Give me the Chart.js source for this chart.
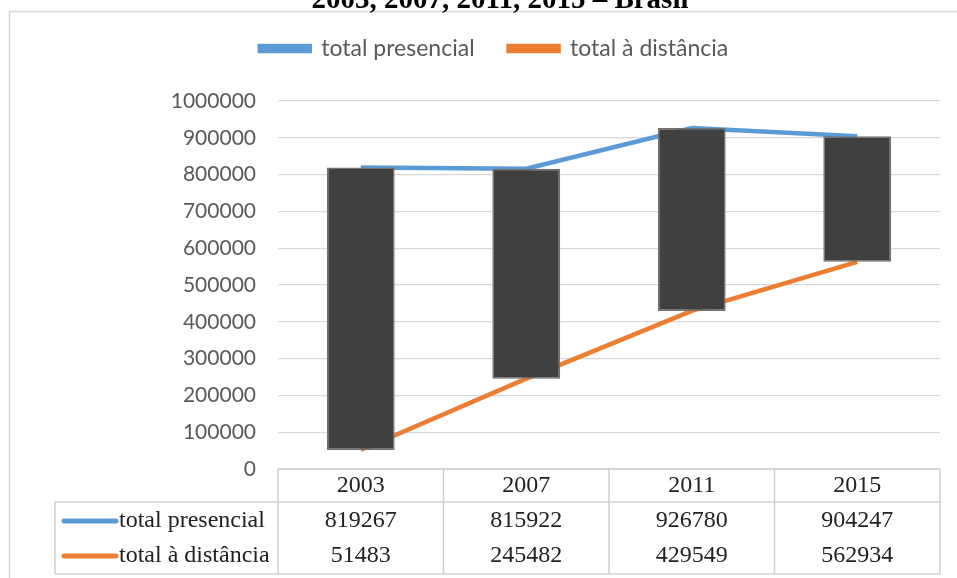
<!DOCTYPE html>
<html>
<head>
<meta charset="utf-8">
<script src="https://cdn.jsdelivr.net/npm/chart.js@4.4.1/dist/chart.umd.min.js"></script>
<style>
  html, body { margin: 0; padding: 0; background: #fff; overflow: hidden; }
  #wrap { position: relative; width: 957px; height: 578px; }
  #title { position: absolute; left: 0; width: 1000px; top: -18px; text-align: center;
           font: bold 29px "Liberation Serif", "Times New Roman", serif; color: #000; }
  canvas { position: absolute; left: 0; top: 0; }
</style>
</head>
<body>
<div id="wrap">
  <canvas id="chart" width="957" height="578"></canvas>
  <div id="title">2003, 2007, 2011, 2015 – Brasil</div>
</div>
<script>
// Data
const years = ['2003', '2007', '2011', '2015'];
const presencial = [819267, 815922, 926780, 904247];
const distancia = [51483, 245482, 429549, 562934];
const seriesNames = ['total presencial', 'total à distância'];
const seriesColors = ['#5B9BD5', '#ED7D31'];

const tickFont = { family: 'Lato', size: 21 };
const legendFont = { family: 'Lato', size: 23 };
const tableFont = '24px "Liberation Serif", "Times New Roman", serif';

// Frame around the whole chart
const chartFrame = {
    id: 'chartFrame',
    beforeDraw(chart) {
        const ctx = chart.ctx;
        ctx.save();
        ctx.strokeStyle = '#d9d9d9';
        ctx.lineWidth = 1.5;
        ctx.strokeRect(9.5, 11.5, 1000, 1000);
        ctx.restore();
    }
};

// Extra room under the legend
const legendMargin = {
    id: 'legendMargin',
    beforeInit(chart) {
        const fit = chart.legend.fit;
        chart.legend.fit = function () {
            fit.bind(chart.legend)();
            this.height += 31;
        };
    }
};

// Data table under the plot, aligned on the category scale
const dataTable = {
    id: 'dataTable',
    afterDraw(chart) {
        const ctx = chart.ctx;
        const x = chart.scales.x;
        const area = chart.chartArea;
        const half = (x.getPixelForValue(1) - x.getPixelForValue(0)) / 2;
        const colLeft = x.getPixelForValue(0) - half;
        const colRight = x.getPixelForValue(years.length - 1) + half;
        const tableLeft = 55;
        const headTop = area.bottom;
        const headBottom = headTop + 33;
        const tableBottom = headBottom + 72;
        const rowMid = [headBottom + 19, headBottom + 54];

        ctx.save();
        ctx.strokeStyle = '#d0d0d0';
        ctx.lineWidth = 1.5;
        ctx.beginPath();
        ctx.moveTo(colLeft, headTop); ctx.lineTo(colRight, headTop);
        ctx.moveTo(tableLeft, headBottom); ctx.lineTo(colRight, headBottom);
        ctx.moveTo(tableLeft, tableBottom); ctx.lineTo(colRight, tableBottom);
        ctx.moveTo(tableLeft, headBottom); ctx.lineTo(tableLeft, tableBottom);
        for (let i = 0; i <= years.length; i++) {
            const cx = colLeft + i * half * 2;
            ctx.moveTo(cx, headTop); ctx.lineTo(cx, tableBottom);
        }
        ctx.stroke();

        ctx.font = tableFont;
        ctx.fillStyle = '#222';
        ctx.textAlign = 'center';
        ctx.textBaseline = 'middle';
        years.forEach((y, i) => {
            const cx = x.getPixelForValue(i);
            ctx.fillText(y, cx, headTop + 17);
            ctx.fillText(String(presencial[i]), cx, rowMid[0]);
            ctx.fillText(String(distancia[i]), cx, rowMid[1]);
        });

        // row labels with series keys
        ctx.textAlign = 'left';
        ctx.lineCap = 'round';
        ctx.lineWidth = 5;
        seriesNames.forEach((name, r) => {
            ctx.strokeStyle = seriesColors[r];
            ctx.beginPath();
            ctx.moveTo(64, rowMid[r]);
            ctx.lineTo(116, rowMid[r]);
            ctx.stroke();
            ctx.fillText(name, 119, rowMid[r]);
        });
        ctx.restore();
    }
};

new Chart(document.getElementById('chart'), {
    type: 'bar',
    data: {
        labels: years,
        datasets: [
            {
                type: 'line',
                label: seriesNames[0],
                data: presencial,
                borderColor: seriesColors[0],
                backgroundColor: seriesColors[0],
                borderWidth: 4.5,
                pointRadius: 0,
                order: 2
            },
            {
                type: 'line',
                label: seriesNames[1],
                data: distancia,
                borderColor: seriesColors[1],
                backgroundColor: seriesColors[1],
                borderWidth: 4.5,
                pointRadius: 0,
                order: 2
            },
            {
                // up-down bars between the two series
                label: 'updown',
                data: presencial.map((p, i) => [distancia[i], p]),
                backgroundColor: '#404040',
                borderColor: '#707070',
                borderWidth: 1.5,
                borderSkipped: false,
                barPercentage: 0.41,
                categoryPercentage: 1,
                order: 1
            }
        ]
    },
    options: {
        responsive: false,
        animation: false,
        layout: { padding: { top: 3, right: 17, bottom: 109, left: 48 } },
        plugins: {
            legend: {
                labels: {
                    filter: item => item.datasetIndex < 2,
                    boxWidth: 50,
                    boxHeight: 5,
                    color: '#595959',
                    font: legendFont,
                    padding: 34
                }
            },
            tooltip: { enabled: false }
        },
        scales: {
            x: { display: false },
            y: {
                min: 0,
                max: 1000000,
                ticks: {
                    stepSize: 100000,
                    color: '#595959',
                    font: tickFont,
                    padding: 22,
                    callback: v => String(v)
                },
                grid: { color: '#d9d9d9', lineWidth: 1.3, drawTicks: false },
                border: { display: false },
                afterFit(scale) { scale.width = 230; }
            }
        }
    },
    plugins: [chartFrame, legendMargin, dataTable]
});
</script>
</body>
</html>
